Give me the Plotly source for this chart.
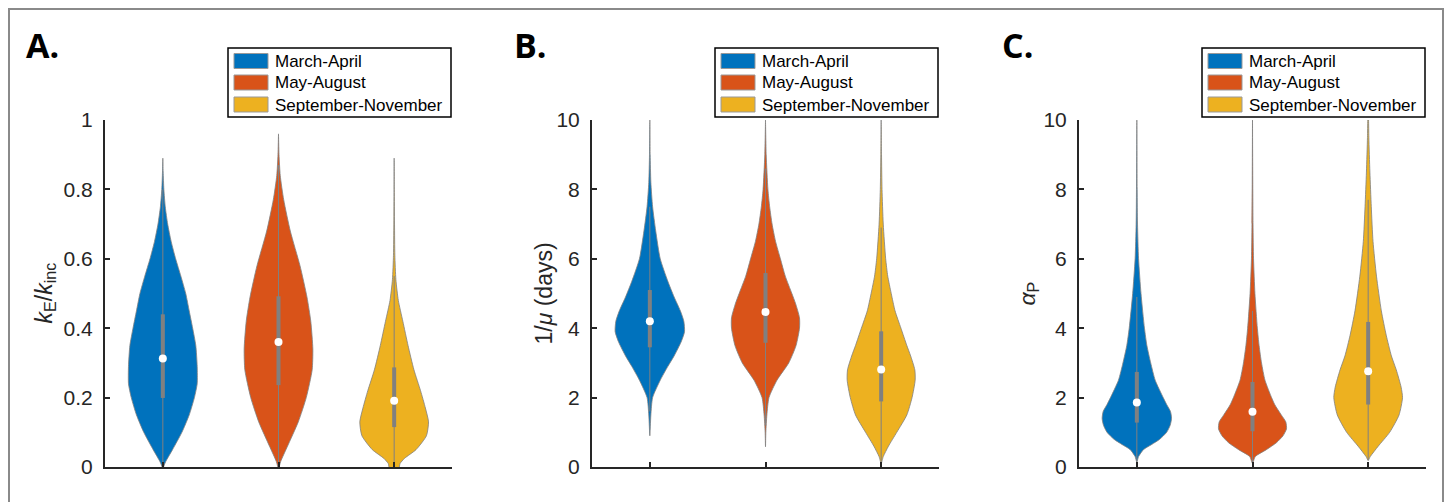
import plotly.graph_objects as go

# ---------------- data ----------------
seasons = ["March-April", "May-August", "September-November"]
positions = [1, 2, 3]
panel_labels = ["A.", "B.", "C."]
ytitles = ["<i>k</i><sub>E</sub>/<i>k</i><sub>inc</sub>",
           "1/<i>μ</i> (days)",
           "<i>α</i><sub>P</sub>"]
yticks_A = [0, 0.2, 0.4, 0.6, 0.8, 1]
yticktext_A = ["0", "0.2", "0.4", "0.6", "0.8", "1"]
yticks_BC = [0, 2, 4, 6, 8, 10]
yticktext_BC = ["0", "2", "4", "6", "8", "10"]

# violin density profiles (value levels, relative half-width)
A_blue_y = [0.0, 0.015, 0.05, 0.10, 0.15, 0.20, 0.24, 0.29, 0.35, 0.40, 0.45, 0.50, 0.55, 0.60, 0.65, 0.70, 0.75, 0.80, 0.85, 0.89]
A_blue_w = [0.02, 0.08, 0.28, 0.55, 0.76, 0.91, 0.99, 0.99, 0.95, 0.86, 0.76, 0.66, 0.52, 0.37, 0.24, 0.14, 0.07, 0.03, 0.01, 0.0]
A_orange_y = [0.0, 0.015, 0.06, 0.13, 0.20, 0.28, 0.34, 0.42, 0.49, 0.58, 0.68, 0.77, 0.84, 0.90, 0.96]
A_orange_w = [0.02, 0.06, 0.26, 0.57, 0.80, 0.97, 0.99, 0.93, 0.82, 0.62, 0.34, 0.15, 0.05, 0.015, 0.0]
A_yellow_y = [0.0, 0.01, 0.025, 0.05, 0.09, 0.13, 0.17, 0.22, 0.28, 0.35, 0.42, 0.48, 0.54, 0.61, 0.70, 0.80, 0.89]
A_yellow_w = [0.15, 0.17, 0.30, 0.63, 0.93, 0.99, 0.90, 0.76, 0.57, 0.40, 0.25, 0.12, 0.05, 0.02, 0.01, 0.004, 0.0]

B_blue_y = [0.9, 1.5, 2.0, 2.5, 2.9, 3.2, 3.6, 3.9, 4.2, 4.5, 4.9, 5.35, 6.0, 6.8, 7.5, 8.2, 9.0, 10.0]
B_blue_w = [0.0, 0.03, 0.08, 0.30, 0.52, 0.70, 0.90, 1.0, 0.98, 0.88, 0.70, 0.52, 0.30, 0.17, 0.08, 0.03, 0.01, 0.0]
B_orange_y = [0.58, 1.0, 1.5, 2.0, 2.5, 3.0, 3.5, 4.0, 4.3, 4.7, 5.0, 5.5, 6.0, 6.5, 7.0, 7.5, 8.0, 9.0, 10.0]
B_orange_w = [0.0, 0.01, 0.04, 0.10, 0.33, 0.67, 0.88, 0.98, 0.98, 0.87, 0.76, 0.57, 0.43, 0.29, 0.19, 0.12, 0.07, 0.02, 0.0]
B_yellow_y = [0.1, 0.3, 0.6, 1.0, 1.5, 2.0, 2.5, 2.8, 3.2, 3.5, 4.0, 4.5, 5.0, 5.5, 6.0, 7.0, 8.0, 9.0, 10.0]
B_yellow_w = [0.0, 0.06, 0.21, 0.45, 0.74, 0.89, 0.98, 0.97, 0.85, 0.74, 0.57, 0.40, 0.29, 0.19, 0.13, 0.06, 0.025, 0.01, 0.0]

C_blue_y = [0.14, 0.3, 0.5, 0.65, 0.8, 1.0, 1.2, 1.4, 1.6, 1.8, 2.0, 2.5, 3.0, 3.5, 4.0, 5.0, 6.0, 7.0, 8.0, 10.0]
C_blue_w = [0.0, 0.05, 0.19, 0.43, 0.66, 0.86, 0.96, 1.0, 0.97, 0.86, 0.76, 0.53, 0.40, 0.29, 0.22, 0.12, 0.05, 0.02, 0.01, 0.0]
C_orange_y = [0.1, 0.3, 0.5, 0.7, 0.9, 1.1, 1.3, 1.5, 1.8, 2.0, 2.5, 3.0, 3.5, 4.0, 5.0, 6.0, 7.0, 10.0]
C_orange_w = [0.0, 0.08, 0.40, 0.69, 0.88, 0.98, 0.96, 0.83, 0.64, 0.55, 0.36, 0.26, 0.19, 0.14, 0.07, 0.03, 0.015, 0.0]
C_yellow_y = [0.19, 0.3, 0.6, 1.0, 1.5, 2.0, 2.3, 2.8, 3.2, 3.8, 4.5, 5.5, 6.5, 7.5, 8.5, 9.5, 10.0, 10.5]
C_yellow_w = [0.0, 0.06, 0.29, 0.62, 0.89, 0.99, 0.95, 0.81, 0.67, 0.52, 0.38, 0.24, 0.14, 0.09, 0.05, 0.02, 0.012, 0.0]

# box statistics (q1, median, q3, whiskers)
A_q1 = [0.199, 0.236, 0.115]; A_med = [0.3125, 0.36, 0.191]; A_q3 = [0.44, 0.492, 0.287]
A_wlo = [0.0, 0.0, 0.0]; A_whi = [0.80, 0.87, 0.55]
B_q1 = [3.45, 3.58, 1.89]; B_med = [4.2, 4.47, 2.81]; B_q3 = [5.1, 5.59, 3.91]
B_wlo = [1.6, 1.2, 0.1]; B_whi = [7.5, 8.6, 6.9]
C_q1 = [1.28, 1.03, 1.8]; C_med = [1.86, 1.59, 2.76]; C_q3 = [2.74, 2.45, 4.18]
C_wlo = [0.14, 0.1, 0.19]; C_whi = [4.9, 4.5, 7.7]

# ---------------- style ----------------
W, H = 1448, 502
colors = ["#0072BD", "#D95319", "#EDB120"]
GRAY = "#808080"
AX = "#262626"
FONT = "Liberation Sans, Arial, Helvetica, sans-serif"
HALF = 0.3

def px(x):
    return x / W

def py(y):
    return 1 - y / H

panels = [
    dict(profiles=[(A_blue_y, A_blue_w), (A_orange_y, A_orange_w), (A_yellow_y, A_yellow_w)],
         q1=A_q1, med=A_med, q3=A_q3, wlo=A_wlo, whi=A_whi, yr=[0, 1],
         tv=yticks_A, tt=yticktext_A, left=105),
    dict(profiles=[(B_blue_y, B_blue_w), (B_orange_y, B_orange_w), (B_yellow_y, B_yellow_w)],
         q1=B_q1, med=B_med, q3=B_q3, wlo=B_wlo, whi=B_whi, yr=[0, 10],
         tv=yticks_BC, tt=yticktext_BC, left=592),
    dict(profiles=[(C_blue_y, C_blue_w), (C_orange_y, C_orange_w), (C_yellow_y, C_yellow_w)],
         q1=C_q1, med=C_med, q3=C_q3, wlo=C_wlo, whi=C_whi, yr=[0, 10],
         tv=yticks_BC, tt=yticktext_BC, left=1079),
]
PW = 347
TOP, BOT = 120, 467
label_x = [25, 513, 1001]
title_x = [45, 543, 1028]

fig = go.Figure()
shapes = []
annotations = []
layout = {}

for p, pan in enumerate(panels):
    sfx = "" if p == 0 else str(p + 1)
    xa, ya = "x" + sfx, "y" + sfx
    for i, (yy, ww) in enumerate(pan["profiles"]):
        c = positions[i]
        xs = [c + HALF * w for w in ww] + [c - HALF * w for w in reversed(ww)]
        ys = list(yy) + list(reversed(yy))
        fig.add_trace(go.Scatter(x=xs, y=ys, xaxis=xa, yaxis=ya, mode="lines",
                                 fill="toself", fillcolor=colors[i],
                                 line=dict(color=GRAY, width=0.8, shape="spline", smoothing=0.6),
                                 showlegend=False, hoverinfo="skip", name=seasons[i]))
        # whisker
        fig.add_trace(go.Scatter(x=[c, c], y=[pan["wlo"][i], pan["whi"][i]], xaxis=xa, yaxis=ya,
                                 mode="lines", line=dict(color=GRAY, width=1),
                                 showlegend=False, hoverinfo="skip"))
        # box
        fig.add_trace(go.Scatter(x=[c, c], y=[pan["q1"][i], pan["q3"][i]], xaxis=xa, yaxis=ya,
                                 mode="lines", line=dict(color=GRAY, width=4),
                                 showlegend=False, hoverinfo="skip"))
        # median
        fig.add_trace(go.Scatter(x=[c], y=[pan["med"][i]], xaxis=xa, yaxis=ya,
                                 mode="markers", marker=dict(color="white", size=8, line=dict(width=0)),
                                 showlegend=False, hoverinfo="skip"))
    L = pan["left"]
    R = L + PW
    layout["xaxis" + sfx] = dict(domain=[px(L), px(R)], anchor=ya, range=[0.5, 3.5],
                                 tickvals=positions, showticklabels=False, ticks="inside",
                                 ticklen=5, tickwidth=1.5, tickcolor=AX, showline=True,
                                 linecolor=AX, linewidth=2, showgrid=False, zeroline=False,
                                 automargin=False, fixedrange=True)
    layout["yaxis" + sfx] = dict(domain=[py(BOT), py(TOP)], anchor=xa, range=pan["yr"],
                                 tickvals=pan["tv"], ticktext=pan["tt"], ticks="inside",
                                 ticklen=5, tickwidth=1.5, tickcolor=AX, showline=True,
                                 linecolor=AX, linewidth=2, showgrid=False, zeroline=False,
                                 tickfont=dict(family=FONT, size=21, color=AX),
                                 ticklabelstandoff=6, automargin=False, fixedrange=True)
    # panel label
    annotations.append(dict(x=px(label_x[p] - 1), y=py(44.5), xref="paper", yref="paper",
                            xanchor="left", yanchor="middle", showarrow=False,
                            text="<b>" + panel_labels[p] + "</b>",
                            font=dict(family="Open Sans, Liberation Sans, sans-serif", size=34, color="black")))
    # y title
    annotations.append(dict(x=px(title_x[p]), y=py((TOP + BOT) / 2), xref="paper", yref="paper",
                            xanchor="center", yanchor="middle", showarrow=False, textangle=-90,
                            text=ytitles[p], font=dict(family=FONT, size=23, color=AX)))
    # legend (drawn)
    lr = R - 1
    shapes.append(dict(type="rect", xref="paper", yref="paper", x0=px(lr - 223), x1=px(lr),
                       y0=py(117), y1=py(48), line=dict(color="black", width=1.5),
                       fillcolor="white", layer="above"))
    for i, s in enumerate(seasons):
        cy = [61, 82.5, 104.5][i]
        shapes.append(dict(type="rect", xref="paper", yref="paper", x0=px(lr - 217), x1=px(lr - 183),
                           y0=py(cy + 7.5), y1=py(cy - 7.5), line=dict(color="#999999", width=1),
                           fillcolor=colors[i], layer="above"))
        annotations.append(dict(x=px(lr - 178), y=py(cy + 0.5), xref="paper", yref="paper",
                                xanchor="left", yanchor="middle", showarrow=False, text=s,
                                font=dict(family=FONT, size=17, color="black")))

# outer figure border
shapes.append(dict(type="rect", xref="paper", yref="paper", x0=px(9), x1=px(1443),
                   y0=py(515), y1=py(9), line=dict(color="#8a8a8a", width=2), layer="below"))

fig.update_layout(width=W, height=H, margin=dict(l=0, r=0, t=0, b=0, autoexpand=False),
                  paper_bgcolor="white", plot_bgcolor="white", showlegend=False,
                  shapes=shapes, annotations=annotations, **layout)

fig.write_html("out.html", config={"displayModeBar": False})
